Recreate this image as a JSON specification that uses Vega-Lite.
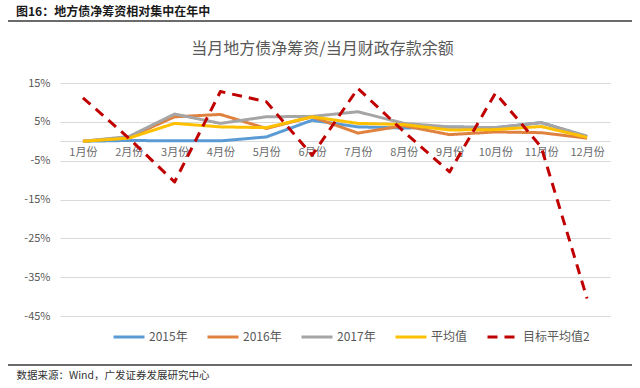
{
"$schema": "https://vega.github.io/schema/vega-lite/v6.json",
"width": 550,
"height": 233,
"autosize": {"type": "none"},
"padding": {"left": 60, "top": 83, "right": 30, "bottom": 72},
"background": "#ffffff",
"title": {"text": "图16：地方债净筹资相对集中在年中", "anchor": "start", "frame": "group", "dx": -44, "offset": 1, "fontSize": 12, "fontWeight": "bold", "color": "#1a1a1a", "font": "Noto Sans CJK SC"},
"data": {"values": [
{"月": 1, "2015年": 0, "2016年": 0, "2017年": 0, "平均值": 0, "目标平均值2": 11.2},
{"月": 2, "2015年": 0.2, "2016年": 1.0, "2017年": 1.2, "平均值": 0.8, "目标平均值2": 0.8},
{"月": 3, "2015年": 0.1, "2016年": 6.3, "2017年": 7.0, "平均值": 4.6, "目标平均值2": -10.5},
{"月": 4, "2015年": 0.1, "2016年": 6.9, "2017年": 4.6, "平均值": 3.7, "目标平均值2": 12.8},
{"月": 5, "2015年": 1.1, "2016年": 3.3, "2017年": 6.3, "平均值": 3.5, "目标平均值2": 10.2},
{"月": 6, "2015年": 5.4, "2016年": 6.3, "2017年": 6.4, "平均值": 6.3, "目标平均值2": -3.6},
{"月": 7, "2015年": 3.7, "2016年": 2.1, "2017年": 7.6, "平均值": 4.6, "目标平均值2": 13.6},
{"月": 8, "2015年": 3.4, "2016年": 4.0, "2017年": 4.6, "平均值": 4.3, "目标平均值2": 2.5},
{"月": 9, "2015年": 3.7, "2016年": 1.7, "2017年": 3.7, "平均值": 2.9, "目标平均值2": -7.9},
{"月": 10, "2015年": 3.5, "2016年": 2.4, "2017年": 3.5, "平均值": 3.0, "目标平均值2": 12.4},
{"月": 11, "2015年": 4.8, "2016年": 2.2, "2017年": 4.8, "平均值": 3.8, "目标平均值2": -1.5},
{"月": 12, "2015年": 1.2, "2016年": 0.8, "2017年": 1.3, "平均值": 1.0, "目标平均值2": -40.5}
]},
"layer": [
{
"transform": [{"fold": ["2015年", "2016年", "2017年", "平均值", "目标平均值2"], "as": ["系列", "值"]}],
"mark": {"type": "line", "strokeCap": "butt", "strokeJoin": "round"},
"encoding": {
"x": {"field": "月", "type": "quantitative", "scale": {"domain": [0.5, 12.5], "nice": false, "zero": false},
"axis": {"values": [1,2,3,4,5,6,7,8,9,10,11,12], "tickCount": 20, "labelExpr": "datum.value + '月份'", "labelOverlap": false, "offset": -175, "grid": false, "ticks": false, "tickSize": 0, "domain": true, "domainColor": "#d9d9d9", "domainWidth": 1, "labelPadding": 5, "labelFontSize": 11, "labelColor": "#6b6b6b", "labelFont": "Noto Sans CJK SC", "title": "当月地方债净筹资/当月财政存款余额", "titleX": 262, "titleY": -93, "titleAnchor": null, "titleAlign": "center", "titleBaseline": "middle", "titleFontSize": 16, "titleFontWeight": "normal", "titleColor": "#595959", "titleFont": "Noto Sans CJK SC"}},
"y": {"field": "值", "type": "quantitative", "scale": {"domain": [-45, 15], "nice": false, "zero": false},
"axis": {"values": [-45, -35, -25, -15, -5, 5, 15], "tickCount": 20, "labelExpr": "datum.value + '%'", "labelOverlap": false, "grid": true, "gridColor": "#d9d9d9", "gridWidth": 1, "domain": false, "ticks": false, "tickSize": 0, "labelPadding": 10, "labelFontSize": 11, "labelColor": "#595959", "labelFont": "Noto Sans CJK SC", "title": "数据来源：Wind，广发证券发展研究中心", "titleAngle": 0, "titleX": -44, "titleY": 292, "titleAlign": "left", "titleBaseline": "middle", "titleFontSize": 10.5, "titleFontWeight": "normal", "titleColor": "#333333", "titleFont": "Noto Sans CJK SC"}},
"color": {"field": "系列", "type": "nominal", "scale": {"domain": ["2015年", "2016年", "2017年", "平均值", "目标平均值2"], "range": ["#5b9bd5", "#e0823f", "#a5a5a5", "#ffc000", "#c00000"]},
"legend": {"title": null, "orient": "none", "legendX": 52, "legendY": 237, "direction": "horizontal", "symbolType": "stroke", "symbolSize": 961, "labelFontSize": 12, "labelColor": "#595959", "labelFont": "Noto Sans CJK SC", "labelOffset": 3, "columnPadding": 13}},
"strokeDash": {"field": "系列", "type": "nominal", "scale": {"domain": ["2015年", "2016年", "2017年", "平均值", "目标平均值2"], "range": [[1, 0], [1, 0], [1, 0], [1, 0], [10, 7]]},
"legend": {"title": null, "orient": "none", "legendX": 52, "legendY": 237, "direction": "horizontal", "symbolType": "stroke", "symbolSize": 961, "labelFontSize": 12, "labelColor": "#595959", "labelFont": "Noto Sans CJK SC", "labelOffset": 3, "columnPadding": 13}},
"strokeWidth": {"field": "系列", "type": "nominal", "scale": {"domain": ["2015年", "2016年", "2017年", "平均值", "目标平均值2"], "range": [3, 3, 3, 3, 3.6]},
"legend": {"title": null, "orient": "none", "legendX": 52, "legendY": 237, "direction": "horizontal", "symbolType": "stroke", "symbolSize": 961, "labelFontSize": 12, "labelColor": "#595959", "labelFont": "Noto Sans CJK SC", "labelOffset": 3, "columnPadding": 13}}
}
},
{
"data": {"values": [{"k": 1}]},
"mark": {"type": "rule", "color": "#3a3a3a", "strokeWidth": 1.5, "clip": false},
"encoding": {"x": {"datum": -0.635, "type": "quantitative"}, "x2": {"datum": 12.98}, "y": {"datum": 30.97, "type": "quantitative"}}
},
{
"data": {"values": [{"k": 1}]},
"mark": {"type": "rule", "color": "#3a3a3a", "strokeWidth": 1.5, "clip": false},
"encoding": {"x": {"datum": -0.635, "type": "quantitative"}, "x2": {"datum": 12.98}, "y": {"datum": -57.62, "type": "quantitative"}}
}
],
"config": {"view": {"stroke": null}, "font": "Noto Sans CJK SC"}
}
